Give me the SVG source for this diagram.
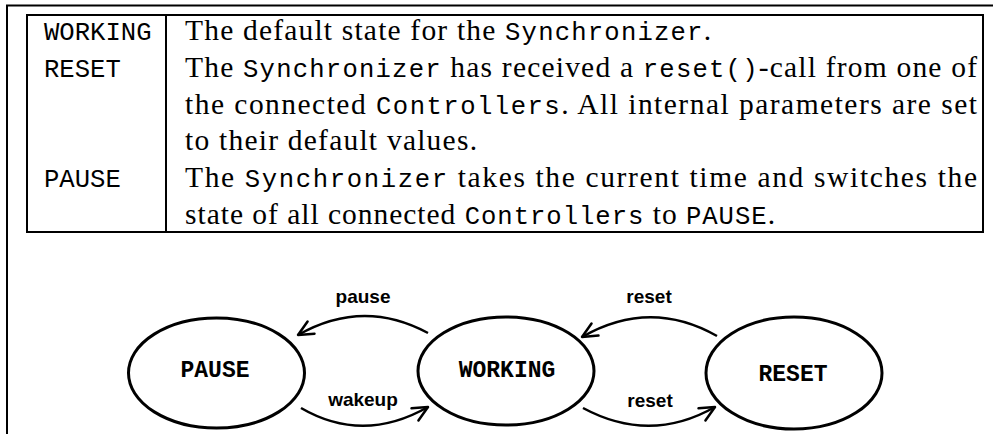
<svg xmlns="http://www.w3.org/2000/svg" width="993" height="434" viewBox="0 0 993 434">
<style>
.frame{fill:none;stroke:#000;stroke-width:2}
.rm{font-family:"Liberation Serif","Times New Roman",serif;font-size:29.5px}
.tt{font-family:"Liberation Mono","Courier New",monospace;font-size:25.6px}
.node{fill:#fff;stroke:#000;stroke-width:3}
.nlabel{font-family:"Liberation Mono","Courier New",monospace;font-size:23px;font-weight:bold;text-anchor:middle}
.edge{fill:none;stroke:#000;stroke-width:2.5}
.elabel{font-family:"Liberation Sans",Arial,sans-serif;font-size:19px;font-weight:bold;text-anchor:middle}
</style>
<defs>
<marker id="arr" markerUnits="userSpaceOnUse" markerWidth="30" markerHeight="30" refX="0" refY="0" viewBox="-20 -15 30 30" orient="auto" overflow="visible">
<path d="M -15 -7 L 0 0 L -15 7" fill="none" stroke="#000" stroke-width="2.5" stroke-linecap="round" stroke-linejoin="round"/>
</marker>
</defs>
<rect width="993" height="434" fill="#fff"/>
<g id="frame">
<path class="frame" d="M 7 434 L 7 5.5 L 993 5.5"/>
</g>
<g id="table">
<rect class="frame" x="27" y="15" width="956" height="217"/>
<line class="frame" x1="166" y1="15" x2="166" y2="232"/>
<text class="tt" x="44" y="40">WORKING</text>
<text class="tt" x="44" y="77">RESET</text>
<text class="tt" x="44" y="187">PAUSE</text>
<text x="185" y="40" textLength="526" lengthAdjust="spacing"><tspan class="rm">The default state for the </tspan><tspan class="tt">Synchronizer</tspan><tspan class="rm">.</tspan></text>
<text x="185" y="77" textLength="792" lengthAdjust="spacing"><tspan class="rm">The </tspan><tspan class="tt">Synchronizer</tspan><tspan class="rm"> has received a </tspan><tspan class="tt">reset()</tspan><tspan class="rm">-call from one of</tspan></text>
<text x="185" y="113.5" textLength="792" lengthAdjust="spacing"><tspan class="rm">the connected </tspan><tspan class="tt">Controllers</tspan><tspan class="rm">.  All internal parameters are set</tspan></text>
<text x="185" y="150" textLength="292" lengthAdjust="spacing" class="rm">to their default values.</text>
<text x="185" y="187" textLength="792" lengthAdjust="spacing"><tspan class="rm">The </tspan><tspan class="tt">Synchronizer</tspan><tspan class="rm"> takes the current time and switches the</tspan></text>
<text x="185" y="224" textLength="590" lengthAdjust="spacing"><tspan class="rm">state of all connected </tspan><tspan class="tt">Controllers</tspan><tspan class="rm"> to </tspan><tspan class="tt">PAUSE</tspan><tspan class="rm">.</tspan></text>
</g>
<g id="connectors">
<path class="edge" d="M 428 333 Q 363 298 298 335" marker-end="url(#arr)"/>
<path class="edge" d="M 301 408 Q 363 444 428 407" marker-end="url(#arr)"/>
<path class="edge" d="M 717 336 Q 650 298 582 337" marker-end="url(#arr)"/>
<path class="edge" d="M 583 408 Q 650 444 715 407" marker-end="url(#arr)"/>
<text class="elabel" x="363" y="303">pause</text>
<text class="elabel" x="363" y="406">wakeup</text>
<text class="elabel" x="649" y="303">reset</text>
<text class="elabel" x="650" y="407">reset</text>
</g>
<g id="node-pause">
<ellipse class="node" cx="216.5" cy="373" rx="88" ry="55"/>
<text class="nlabel" x="215" y="377">PAUSE</text>
</g>
<g id="node-working">
<ellipse class="node" cx="506" cy="371" rx="88" ry="54"/>
<text class="nlabel" x="507" y="377">WORKING</text>
</g>
<g id="node-reset">
<ellipse class="node" cx="794" cy="373" rx="88" ry="56"/>
<text class="nlabel" x="793" y="381">RESET</text>
</g>
</svg>
